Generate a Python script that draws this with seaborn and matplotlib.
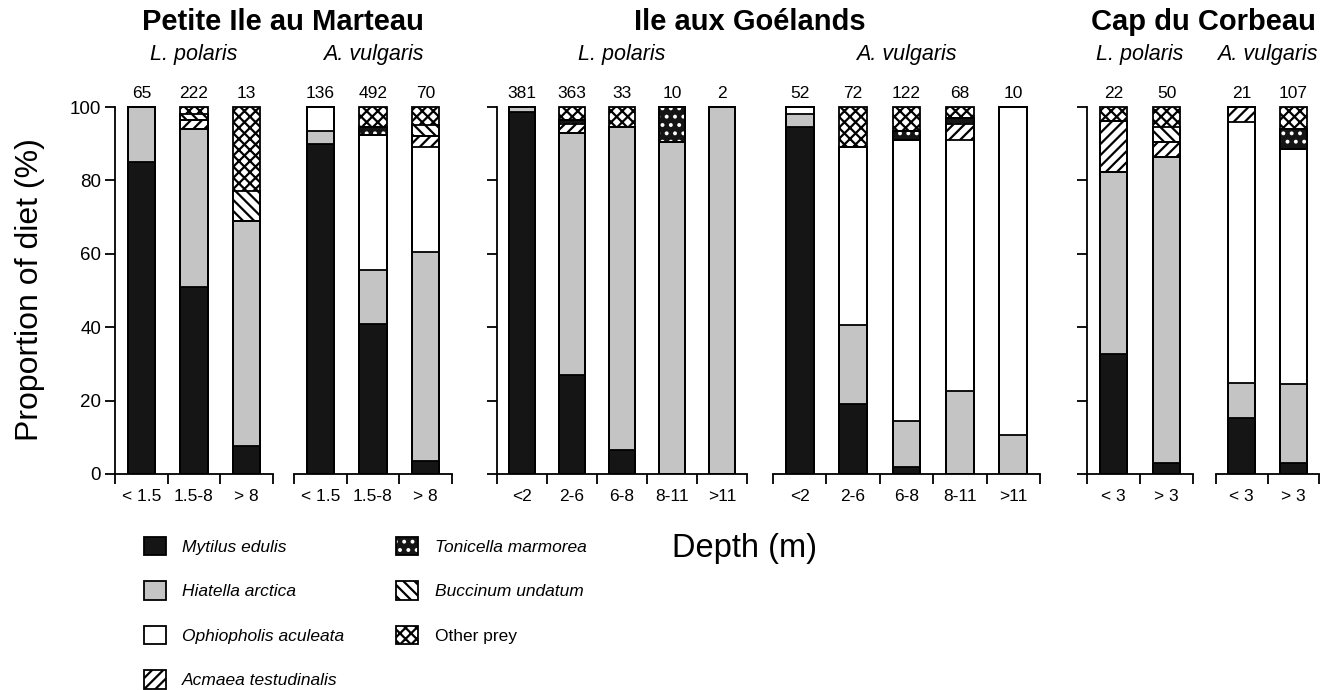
import matplotlib
matplotlib.use("Agg")
import matplotlib.pyplot as plt
import seaborn as sns
import numpy as np
import pandas as pd
from matplotlib.patches import Patch
from matplotlib.legend_handler import HandlerTuple

sns.set_theme(style="white")
plt.rcParams['font.family'] = ['Liberation Sans', 'DejaVu Sans']
plt.rcParams['hatch.linewidth'] = 1.6

W, H = 1338, 690

# ---------------- data ----------------
prey = ["Mytilus edulis", "Hiatella arctica", "Ophiopholis aculeata",
        "Acmaea testudinalis", "Tonicella marmorea", "Buccinum undatum", "Other prey"]

sites = ["Petite Ile au Marteau", "Ile aux Goélands", "Cap du Corbeau"]
species = ["L. polaris", "A. vulgaris"]

# Petite Ile au Marteau
pim_depths = ["< 1.5", "1.5-8", "> 8"]
pim_lp_n = [65, 222, 13]
pim_lp_diet = [[85, 15, 0, 0, 0, 0, 0],
               [51, 43, 0, 2.5, 0, 1.5, 2],
               [7.5, 61.5, 0, 0, 0, 8, 23]]
pim_av_n = [136, 492, 70]
pim_av_diet = [[90, 3.5, 6.5, 0, 0, 0, 0],
               [41, 14.5, 37, 0, 2, 0, 5.5],
               [3.5, 57, 28.5, 3, 0, 3, 5]]

# Ile aux Goélands
iag_depths = ["<2", "2-6", "6-8", "8-11", ">11"]
iag_lp_n = [381, 363, 33, 10, 2]
iag_lp_diet = [[98.7, 1.3, 0, 0, 0, 0, 0],
               [27, 66, 0, 2.5, 1, 0, 3.5],
               [6.5, 88, 0, 0, 0, 0, 5.5],
               [0, 90.5, 0, 0, 9.5, 0, 0],
               [0, 100, 0, 0, 0, 0, 0]]
iag_av_n = [52, 72, 122, 68, 10]
iag_av_diet = [[94.5, 3.5, 2, 0, 0, 0, 0],
               [19, 21.5, 48.5, 0, 0, 0, 11],
               [2, 12.5, 76.5, 0, 2.5, 0, 6.5],
               [0, 22.5, 68.5, 4.5, 1.5, 0, 3],
               [0, 10.5, 89.5, 0, 0, 0, 0]]

# Cap du Corbeau
cdc_depths = ["< 3", "> 3"]
cdc_lp_n = [22, 50]
cdc_lp_diet = [[32.7, 49.5, 0, 14, 0, 0, 3.8],
               [3, 83.5, 0, 4, 0, 4, 5.5]]
cdc_av_n = [21, 107]
cdc_av_diet = [[15.3, 9.5, 71.2, 4, 0, 0, 0],
               [3, 21.5, 64, 0, 5.5, 0, 6]]

# ---------------- styles ----------------
# facecolor, hatch color, hatch
styles = [("#151515", "#151515", None),
          ("#c4c4c4", "#c4c4c4", None),
          ("white", "white", None),
          ("white", "black", "///"),
          ("#151515", "white", ".."),
          ("white", "black", "\\\\\\"),
          ("white", "black", "xxx")]

fig = plt.figure(figsize=(W / 100, H / 100), dpi=100)
fig.patch.set_facecolor("white")

y0_px, y100_px = 474, 107
px_per_unit = (y0_px - y100_px) / 100.0
ytop = 101
ax_bottom = 1 - y0_px / H
ax_height = (ytop * px_per_unit) / H

panels = [
    # left_px, right_px, depths, diet, n, species, left spine, y labels
    (115, 273, pim_depths, pim_lp_diet, pim_lp_n, species[0], True, True),
    (294, 452, pim_depths, pim_av_diet, pim_av_n, species[1], False, False),
    (497, 747, iag_depths, iag_lp_diet, iag_lp_n, species[0], True, False),
    (773, 1040, iag_depths, iag_av_diet, iag_av_n, species[1], False, False),
    (1087, 1193, cdc_depths, cdc_lp_diet, cdc_lp_n, species[0], True, False),
    (1216, 1319, cdc_depths, cdc_av_diet, cdc_av_n, species[1], False, False),
]

LW = 1.3
axes = []
for (lpx, rpx, depths, diet, counts, sp, lspine, ylab) in panels:
    ax = fig.add_axes([lpx / W, ax_bottom, (rpx - lpx) / W, ax_height])
    axes.append(ax)
    arr = np.array(diet, dtype=float)
    cum = arr.cumsum(axis=1)
    cum = np.minimum(cum, 100)
    # fills, top layer first so lower layers overlay
    for k in range(6, -1, -1):
        df = pd.DataFrame({"depth": depths, "v": cum[:, k]})
        fc, hc, hatch = styles[k]
        sns.barplot(data=df, x="depth", y="v", order=depths, color=fc,
                    edgecolor=hc, linewidth=0, hatch=hatch, width=0.52,
                    saturation=1, errorbar=None, ax=ax)
    # outlines of every segment
    for k in range(7):
        df = pd.DataFrame({"depth": depths, "v": cum[:, k]})
        sns.barplot(data=df, x="depth", y="v", order=depths, fill=False,
                    color="black", linewidth=LW, width=0.52,
                    errorbar=None, ax=ax)
    n = len(depths)
    ax.set_xlim(-0.5, n - 0.5)
    ax.set_ylim(0, ytop)
    ax.set_xlabel("")
    ax.set_ylabel("")
    ax.set_facecolor("none")
    for s in ["top", "right"]:
        ax.spines[s].set_visible(False)
    ax.spines["bottom"].set_color("black")
    ax.spines["bottom"].set_linewidth(LW)
    ax.set_xticks(np.arange(-0.5, n, 1.0))
    ax.set_xticklabels([])
    ax.set_xticks(np.arange(n), minor=True)
    ax.set_xticklabels(depths, minor=True)
    ax.tick_params(axis="x", which="major", bottom=True, direction="out",
                   length=7, width=LW, color="black")
    ax.tick_params(axis="x", which="minor", bottom=True, length=0, pad=11,
                   labelsize=12.5, labelcolor="black")
    if lspine:
        ax.spines["left"].set_color("black")
        ax.spines["left"].set_linewidth(LW)
        ax.spines["left"].set_bounds(0, 100)
        ax.set_yticks(np.arange(0, 101, 20))
        ax.tick_params(axis="y", left=True, direction="out", length=7,
                       width=LW, color="black", labelsize=13.5,
                       labelcolor="black", labelleft=ylab, pad=3)
    else:
        ax.spines["left"].set_visible(False)
        ax.set_yticks([])
    for i, c in enumerate(counts):
        ax.annotate(str(c), xy=(i, 100), xytext=(0, 10), textcoords="offset points",
                    ha="center", va="center", fontsize=12.5, color="black",
                    annotation_clip=False)
    ax.annotate(sp, xy=(0.5, 1), xycoords="axes fraction", xytext=(0, 35),
                textcoords="offset points", ha="center", va="center",
                fontsize=15.5, style="italic", color="black")

# site titles (centre x in pixels)
title_x = [283, 750, 1203]
for tx, site in zip(title_x, sites):
    fig.text(tx / W, 1 - 22 / H, site, ha="center", va="center",
             fontsize=21, fontweight="bold", color="black")

fig.text(30 / W, 1 - 290 / H, "Proportion of diet (%)", rotation=90,
         ha="center", va="center", fontsize=23, color="black")
fig.text(745 / W, 1 - 548 / H, "Depth (m)", ha="center", va="center",
         fontsize=23.5, color="black")

# legend
handles = []
for k, (fc, hc, hatch) in enumerate(styles):
    if k == 4:
        h = (Patch(facecolor=fc, edgecolor=hc, hatch=hatch, linewidth=0),
             Patch(facecolor="none", edgecolor="black", linewidth=LW))
    else:
        h = Patch(facecolor=fc, edgecolor="black", hatch=hatch, linewidth=LW)
    handles.append(h)
leg = fig.legend(handles, prey, ncol=2, loc="upper left",
                 bbox_to_anchor=(144 / W, 1 - 537 / H), frameon=False,
                 fontsize=12.5, handlelength=1.25, handleheight=1.25,
                 labelspacing=1.5, columnspacing=3.0, handletextpad=0.95,
                 borderpad=0, borderaxespad=0,
                 handler_map={tuple: HandlerTuple(ndivide=1)})
for t in leg.get_texts():
    t.set_color("black")
    if t.get_text() != "Other prey":
        t.set_style("italic")

fig.savefig("out.png", dpi=100, facecolor="white")
